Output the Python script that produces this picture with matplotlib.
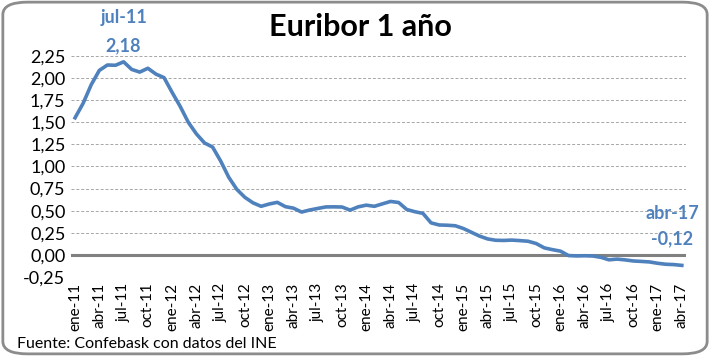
import matplotlib
matplotlib.use("Agg")
import matplotlib.pyplot as plt
from matplotlib.patches import FancyBboxPatch
import numpy as np

# Euribor 1 año, mensual ene-11 .. abr-17
months = ["ene", "feb", "mar", "abr", "may", "jun", "jul", "ago", "sep", "oct", "nov", "dic"]
labels = [f"{m}-{y}" for y in range(11, 18) for m in months][:76]

euribor = [
    1.550, 1.714, 1.924, 2.086, 2.147, 2.144, 2.183, 2.097, 2.067, 2.110, 2.044, 2.004,
    1.837, 1.678, 1.499, 1.368, 1.266, 1.219, 1.061, 0.877, 0.740, 0.650, 0.588, 0.549,
    0.575, 0.594, 0.545, 0.528, 0.484, 0.507, 0.525, 0.542, 0.543, 0.541, 0.506, 0.543,
    0.562, 0.549, 0.577, 0.604, 0.592, 0.513, 0.488, 0.469, 0.362, 0.338, 0.335, 0.329,
    0.298, 0.255, 0.212, 0.180, 0.165, 0.163, 0.167, 0.161, 0.154, 0.128, 0.079, 0.059,
    0.042, -0.008, -0.012, -0.010, -0.013, -0.028, -0.056, -0.048, -0.057, -0.069, -0.074, -0.080,
    -0.095, -0.106, -0.110, -0.119,
]
yticks = [-0.25, 0.0, 0.25, 0.5, 0.75, 1.0, 1.25, 1.5, 1.75, 2.0, 2.25]

plt.rcParams["font.family"] = ["Lato", "DejaVu Sans"]
blue = "#4F81BD"

fig = plt.figure(figsize=(7.1, 3.56), dpi=100)
fig.patches.append(FancyBboxPatch((0.004, 0.006), 0.992, 0.988,
                                  boxstyle="round,pad=0,rounding_size=0.035",
                                  transform=fig.transFigure, fc="white",
                                  ec="#8c8c8c", lw=2, zorder=-1))

ax = fig.add_axes([0.1, 0.222, 0.866, 0.621])
ax.set_facecolor("none")
x = np.arange(len(euribor))
ax.plot(x, euribor, color=blue, lw=2.6, solid_joinstyle="round", zorder=3)
ax.axhline(0, color="#808080", lw=2.2, zorder=2)

ax.set_xlim(-0.5, len(euribor) - 0.5)
ax.set_ylim(-0.25, 2.25)
ax.set_yticks(yticks)
ax.set_yticklabels([f"{v:.2f}".replace(".", ",") for v in yticks], fontsize=13)
ax.set_xticks(x[::3])
ax.set_xticklabels(labels[::3], rotation=90, fontsize=11)
ax.tick_params(length=0, pad=4)
for s in ax.spines.values():
    s.set_visible(False)
for v in yticks:
    if v != 0:
        ax.axhline(v, color="#a6a6a6", lw=0.7, ls=(0, (3, 2)), zorder=1)

# labels on the max and last point
imax = int(np.argmax(euribor))
ax.annotate(labels[imax], (x[imax], euribor[imax]), xytext=(0, 32), textcoords="offset points",
            ha="center", va="center", color=blue, fontsize=13, fontweight="bold")
ax.annotate(f"{euribor[imax]:.2f}".replace(".", ","), (x[imax], euribor[imax]), xytext=(0, 11.5),
            textcoords="offset points", ha="center", va="center", color=blue,
            fontsize=13, fontweight="bold")
ax.annotate(labels[-1], (x[-1], euribor[-1]), xytext=(-7, 37), textcoords="offset points",
            ha="center", va="center", color=blue, fontsize=13, fontweight="bold")
ax.annotate(f"{euribor[-1]:.2f}".replace(".", ","), (x[-1], euribor[-1]), xytext=(-7, 19),
            textcoords="offset points", ha="center", va="center", color=blue,
            fontsize=13, fontweight="bold")

fig.text(0.507, 0.925, "Euribor 1 año", ha="center", va="center", fontsize=22, fontweight="bold")
fig.text(0.024, 0.035, "Fuente: Confebask con datos del INE", ha="left", va="center", fontsize=11.5)

fig.savefig("out.png", dpi=100)
